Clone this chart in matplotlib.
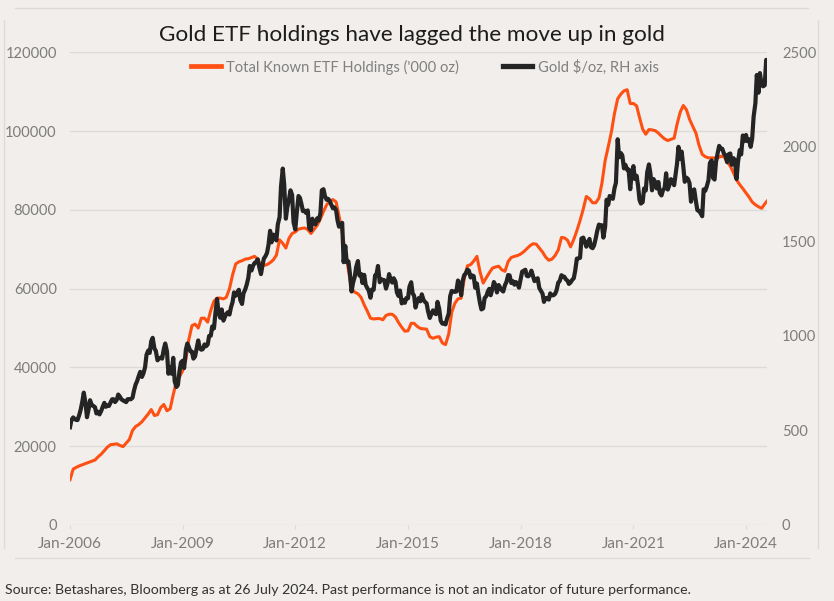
import matplotlib
matplotlib.use("Agg")
import matplotlib.pyplot as plt
import pandas as pd
from matplotlib.lines import Line2D

plt.rcParams['font.family'] = ['Lato', 'DejaVu Sans']

# ---------------- data ----------------
title = "Gold ETF holdings have lagged the move up in gold"
etf_label = "Total Known ETF Holdings ('000 oz)"
gold_label = "Gold $/oz, RH axis"
source = "Source: Betashares, Bloomberg as at 26 July 2024. Past performance is not an indicator of future performance."

x_ticks = ["2006-01-01", "2009-01-01", "2012-01-01", "2015-01-01", "2018-01-01", "2021-01-01", "2024-01-01"]
x_tick_labels = ["Jan-2006", "Jan-2009", "Jan-2012", "Jan-2015", "Jan-2018", "Jan-2021", "Jan-2024"]
left_ticks = [0, 20000, 40000, 60000, 80000, 100000, 120000]
right_ticks = [0, 500, 1000, 1500, 2000, 2500]
end_date = "2024-07-26"

# ETF holdings ('000 oz), first day of each month Jan-2006 .. Jul-2024, then 26-Jul-2024
etf_holdings = [
    11500, 14200, 14600, 15000, 15300, 15600, 15900, 16200, 16500, 17300, 18000, 18900,   # 2006
    19800, 20400, 20500, 20600, 20200, 19900, 20800, 21700, 24000, 25000, 25500, 26200,   # 2007
    27200, 28200, 29300, 27800, 28000, 29800, 30600, 29000, 29500, 33100, 36400, 37600,   # 2008
    39200, 42000, 47000, 50600, 51000, 50000, 52500, 52500, 51500, 54500, 56800, 57600,   # 2009
    57600, 57400, 57800, 60000, 63500, 66300, 66800, 67100, 67500, 67600, 67900, 68200,   # 2010
    67500, 65800, 65900, 66100, 66600, 67300, 68500, 72400, 71500, 70300, 72800, 74000,   # 2011
    74400, 75100, 75300, 75400, 75000, 74000, 75000, 76100, 77700, 79600, 81300, 82200,   # 2012
    82600, 82000, 78500, 74200, 69500, 64500, 60000, 59100, 58700, 57800, 55900, 54300,   # 2013
    52500, 52300, 52400, 52400, 52100, 53200, 53500, 53500, 52800, 51400, 50200, 49200,   # 2014
    49300, 51200, 51200, 50400, 49900, 49800, 49700, 47800, 47400, 47700, 47800, 46200,   # 2015
    45800, 48500, 54000, 56300, 57400, 57600, 62500, 65800, 66100, 67000, 68200, 64300,   # 2016
    61400, 62800, 64000, 65200, 65500, 65700, 64800, 64400, 66900, 67900, 68200, 68400,   # 2017
    68800, 69400, 70100, 70900, 71400, 71300, 70300, 69300, 68000, 67200, 67500, 68400,   # 2018
    69800, 73000, 72900, 72300, 70600, 72500, 74700, 77300, 80200, 83400, 82800, 81800,   # 2019
    81800, 83000, 86800, 92500, 96000, 99800, 104500, 108200, 109400, 110200, 110500, 107000,  # 2020
    107000, 106400, 103500, 100500, 99200, 100400, 100300, 100100, 99500, 98700, 98000, 97600,  # 2021
    97900, 98200, 101700, 104800, 106500, 105400, 103000, 101200, 99500, 96400, 94100, 93500,   # 2022
    93200, 93200, 93200, 93200, 93600, 93500, 92200, 91100, 89400, 87600, 86400, 85400,   # 2023
    84300, 83200, 82000, 81300, 80800, 80400, 81500,                                      # 2024
]
etf_last = 82300

# Gold $/oz on the 1st and 15th of each month Jan-2006 .. Jul-2024, then 26-Jul-2024
gold_usd = [
    517, 555, 569, 560, 556, 555, 582, 610, 654, 700, 643, 570,
    613, 660, 633, 630, 623, 590, 599, 585, 604, 625, 646, 625,          # 2006
    632, 630, 650, 665, 665, 650, 662, 690, 679, 665, 659, 655,
    650, 665, 666, 665, 673, 710, 743, 760, 789, 810, 783, 800,          # 2007
    834, 900, 923, 910, 972, 990, 933, 920, 871, 880, 885, 880,
    930, 960, 918, 800, 833, 800, 884, 760, 730, 740, 814, 860,          # 2008
    869, 830, 928, 960, 942, 920, 917, 880, 891, 930, 976, 935,
    927, 930, 955, 945, 955, 1000, 1001, 1050, 1040, 1120, 1195, 1125,   # 2009
    1096, 1140, 1081, 1100, 1116, 1125, 1113, 1150, 1179, 1230, 1213, 1230,
    1244, 1190, 1169, 1225, 1246, 1270, 1307, 1370, 1346, 1370, 1386, 1390,  # 2010
    1405, 1365, 1327, 1370, 1409, 1420, 1439, 1480, 1556, 1495, 1536, 1530,
    1505, 1590, 1628, 1790, 1885, 1800, 1620, 1680, 1722, 1770, 1746, 1600,  # 2011
    1563, 1650, 1740, 1730, 1697, 1660, 1662, 1650, 1664, 1570, 1559, 1620,
    1598, 1590, 1622, 1610, 1648, 1770, 1776, 1740, 1720, 1725, 1714, 1695,  # 2012
    1675, 1680, 1664, 1610, 1578, 1590, 1598, 1390, 1476, 1390, 1394, 1330,
    1235, 1280, 1313, 1365, 1396, 1320, 1328, 1280, 1323, 1270, 1253, 1240,  # 2013
    1202, 1245, 1244, 1320, 1326, 1370, 1284, 1300, 1296, 1295, 1250, 1275,
    1327, 1300, 1282, 1305, 1287, 1230, 1211, 1240, 1172, 1190, 1175, 1200,  # 2014
    1199, 1260, 1284, 1225, 1213, 1150, 1183, 1200, 1183, 1220, 1190, 1180,
    1172, 1130, 1095, 1115, 1135, 1120, 1115, 1180, 1142, 1080, 1065, 1065,  # 2015
    1061, 1090, 1118, 1210, 1238, 1235, 1233, 1235, 1293, 1275, 1215, 1290,
    1322, 1330, 1351, 1345, 1309, 1320, 1316, 1255, 1277, 1225, 1173, 1140,  # 2016
    1146, 1200, 1211, 1235, 1249, 1215, 1249, 1285, 1268, 1230, 1269, 1255,
    1242, 1235, 1269, 1285, 1322, 1320, 1280, 1290, 1271, 1285, 1275, 1255,  # 2017
    1303, 1340, 1345, 1350, 1318, 1315, 1325, 1345, 1315, 1290, 1299, 1305,
    1253, 1240, 1224, 1180, 1201, 1200, 1192, 1225, 1215, 1215, 1222, 1240,  # 2018
    1282, 1290, 1321, 1315, 1313, 1300, 1292, 1275, 1283, 1295, 1305, 1345,
    1409, 1410, 1413, 1515, 1520, 1500, 1472, 1490, 1513, 1470, 1464, 1478,  # 2019
    1517, 1555, 1589, 1585, 1585, 1520, 1577, 1720, 1694, 1740, 1730, 1725,
    1781, 1810, 2040, 1945, 1967, 1955, 1886, 1905, 1879, 1880, 1776, 1855,  # 2020
    1898, 1830, 1847, 1795, 1720, 1700, 1708, 1780, 1769, 1865, 1907, 1860,
    1770, 1830, 1814, 1780, 1814, 1755, 1743, 1770, 1783, 1860, 1774, 1795,  # 2021
    1829, 1820, 1797, 1855, 1910, 2000, 1937, 1975, 1897, 1815, 1837, 1830,
    1807, 1710, 1766, 1775, 1711, 1665, 1661, 1650, 1633, 1775, 1768, 1790,  # 2022
    1824, 1915, 1928, 1835, 1827, 1920, 1969, 2005, 1990, 1990, 1963, 1955,
    1919, 1960, 1965, 1905, 1940, 1930, 1830, 1920, 1983, 1960, 2060, 2030,  # 2023
    2063, 2030, 2040, 2000, 2044, 2160, 2230, 2380, 2286, 2390, 2327, 2320,
    2326, 2460,                                                            # 2024
]
gold_last = 2385

# ---------------- styling ----------------
BG = '#f1eeeb'
ORANGE = '#ff5014'
BLACK = '#242424'
GRID = '#dddbd9'
TICKC = '#7d7d7d'

etf_dates = list(pd.date_range("2006-01-01", periods=len(etf_holdings), freq="MS")) + [pd.Timestamp(end_date)]
etf_vals = etf_holdings + [etf_last]
gold_dates = list(pd.date_range("2006-01-01", periods=len(gold_usd), freq="SMS")) + [pd.Timestamp(end_date)]
gold_vals = gold_usd + [gold_last]

W, H = 834, 601
fig = plt.figure(figsize=(W / 100, H / 100), dpi=100, facecolor=BG)

# card edges
for xs, ys in [((15, 808), (8, 8)), ((4, 4), (20, 548)), ((818, 818), (20, 548)), ((15, 809), (558, 558))]:
    fig.add_artist(Line2D([x / W for x in xs], [1 - y / H for y in ys], color='#dedbd7', lw=1.0))

x0, x1, ytop, ybot = 70, 767.3, 52.3, 525
ax = fig.add_axes([x0 / W, 1 - ybot / H, (x1 - x0) / W, (ybot - ytop) / H])
ax.set_facecolor(BG)
ax.patch.set_alpha(0)
ax2 = ax.twinx()

ax.plot(etf_dates, etf_vals, color=ORANGE, lw=2.2, solid_joinstyle='round', zorder=3)
ax2.plot(gold_dates, gold_vals, color=BLACK, lw=3.0, solid_joinstyle='round', zorder=4)

ax.set_xlim(pd.Timestamp("2006-01-01"), pd.Timestamp(end_date))
ax.set_ylim(0, 120000)
ax2.set_ylim(0, 2500)

ax.set_yticks(left_ticks)
ax.set_yticklabels([str(v) for v in left_ticks])
ax2.set_yticks(right_ticks)
ax2.set_yticklabels([str(v) for v in right_ticks])
ax.set_xticks([pd.Timestamp(d) for d in x_ticks])
ax.set_xticklabels(x_tick_labels)

ax.grid(axis='y', color=GRID, lw=1.0, zorder=0)
ax.set_axisbelow(True)
for a in (ax, ax2):
    for s in a.spines.values():
        s.set_visible(False)

ax.tick_params(axis='y', length=0, pad=9.5, labelsize=10.6, labelcolor=TICKC)
ax2.tick_params(axis='y', length=0, pad=10.5, labelsize=10.6, labelcolor=TICKC)
ax.tick_params(axis='x', length=3, width=0.8, color=GRID, pad=5.5, labelsize=11, labelcolor=TICKC)

fig.text(412 / W, 1 - 35 / H, title, ha='center', va='center', fontsize=16.2, color='#1c1c1c')

handles = [Line2D([], [], color=ORANGE, lw=3.4), Line2D([], [], color=BLACK, lw=3.8)]
leg = fig.legend(handles, [etf_label, gold_label], loc='center', bbox_to_anchor=(425 / W, 1 - 67 / H),
                 ncol=2, frameon=False, fontsize=10.6, handlelength=2.0, handletextpad=0.35,
                 columnspacing=3.0, labelcolor='#808080')

fig.text(5 / W, 1 - 590 / H, source, ha='left', va='center', fontsize=10.2, color='#333333')

fig.savefig("out.png", dpi=100, facecolor=BG)
